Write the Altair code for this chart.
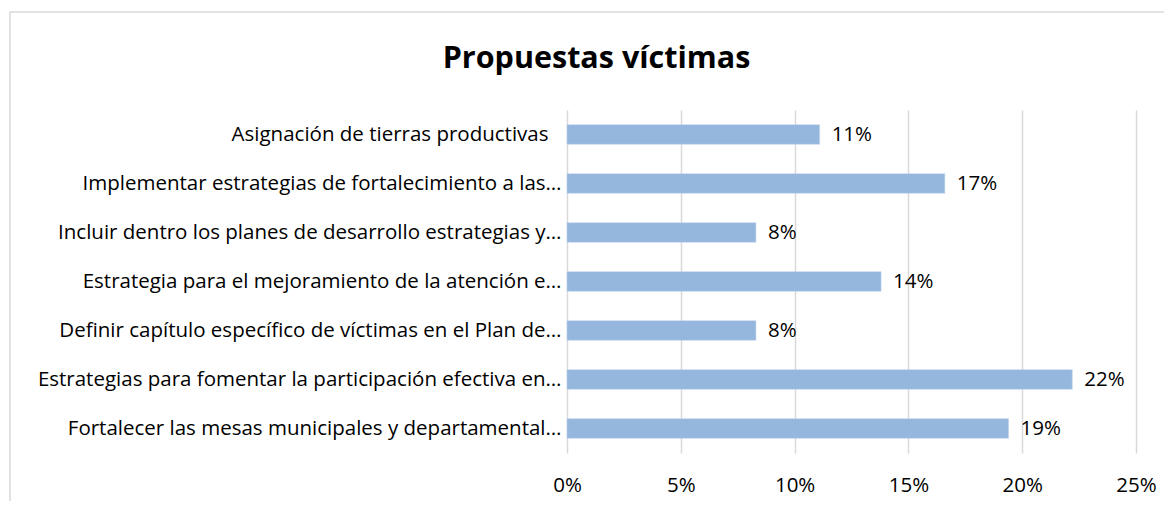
import altair as alt
import pandas as pd

categories = [
    "Asignación de tierras productivas ",
    "Implementar estrategias de fortalecimiento a las…",
    "Incluir dentro los planes de desarrollo estrategias y…",
    "Estrategia para el mejoramiento de la atención e…",
    "Definir capítulo específico de víctimas en el Plan de…",
    "Estrategias para fomentar la participación efectiva en…",
    "Fortalecer las mesas municipales y departamental…",
]
values = [0.111, 0.166, 0.083, 0.138, 0.083, 0.222, 0.194]
labels = ["11%", "17%", "8%", "14%", "8%", "22%", "19%"]
x_ticks = [0, 0.05, 0.10, 0.15, 0.20, 0.25]

df = pd.DataFrame({"cat": categories, "val": values, "lab": labels})

FONT = "Open Sans"
FS = 20.5

base = alt.Chart(df)

frame = base.mark_rect(fill=None, stroke="#d9d9d9", strokeWidth=1.5).encode(
    x=alt.value(-557), x2=alt.value(700), y=alt.value(-98), y2=alt.value(420)
).transform_filter(alt.datum.lab == labels[0])

bars = base.mark_bar(color="#95b7de", stroke="#bcd1ea", strokeWidth=0.5).encode(
    x=alt.X("val:Q",
            scale=alt.Scale(domain=[0, 0.25], nice=False),
            axis=alt.Axis(values=x_ticks, format=".0%", title=None, grid=True,
                          gridColor="#d9d9d9", gridWidth=1.5, domain=False,
                          ticks=False, labelFont=FONT, labelFontSize=FS,
                          labelColor="#000000", labelPadding=22,
                          labelFlush=False)),
    y=alt.Y("cat:N", sort=categories,
            scale=alt.Scale(paddingInner=0.6, paddingOuter=0.3),
            axis=alt.Axis(title=None, domain=False, ticks=False,
                          labelFont=FONT, labelFontSize=FS, labelColor="#000000",
                          labelPadding={"condition": {"test": "substring(datum.value, 0, 8) == 'Asignaci'", "value": 19}, "value": 6},
                          labelLimit=560)),
)

text = base.mark_text(align="left", dx=12, font=FONT, fontSize=FS,
                      color="#000000").encode(
    x="val:Q", y=alt.Y("cat:N", sort=categories), text="lab:N"
)

chart = alt.layer(frame, bars, text).properties(
    width=569, height=343,
    autosize=alt.AutoSizeParams(type="none"),
    padding={"left": 559, "top": 102, "right": 28, "bottom": 48},
    title=alt.TitleParams("Propuestas víctimas", font=FONT, fontSize=30.5,
                          fontWeight="bold", color="#000000", anchor="middle",
                          frame="group", baseline="alphabetic",
                          dx=-255, offset=-87),
).configure_view(stroke=None)

chart.save("out.html", embed_options={"renderer": "svg", "actions": False})
